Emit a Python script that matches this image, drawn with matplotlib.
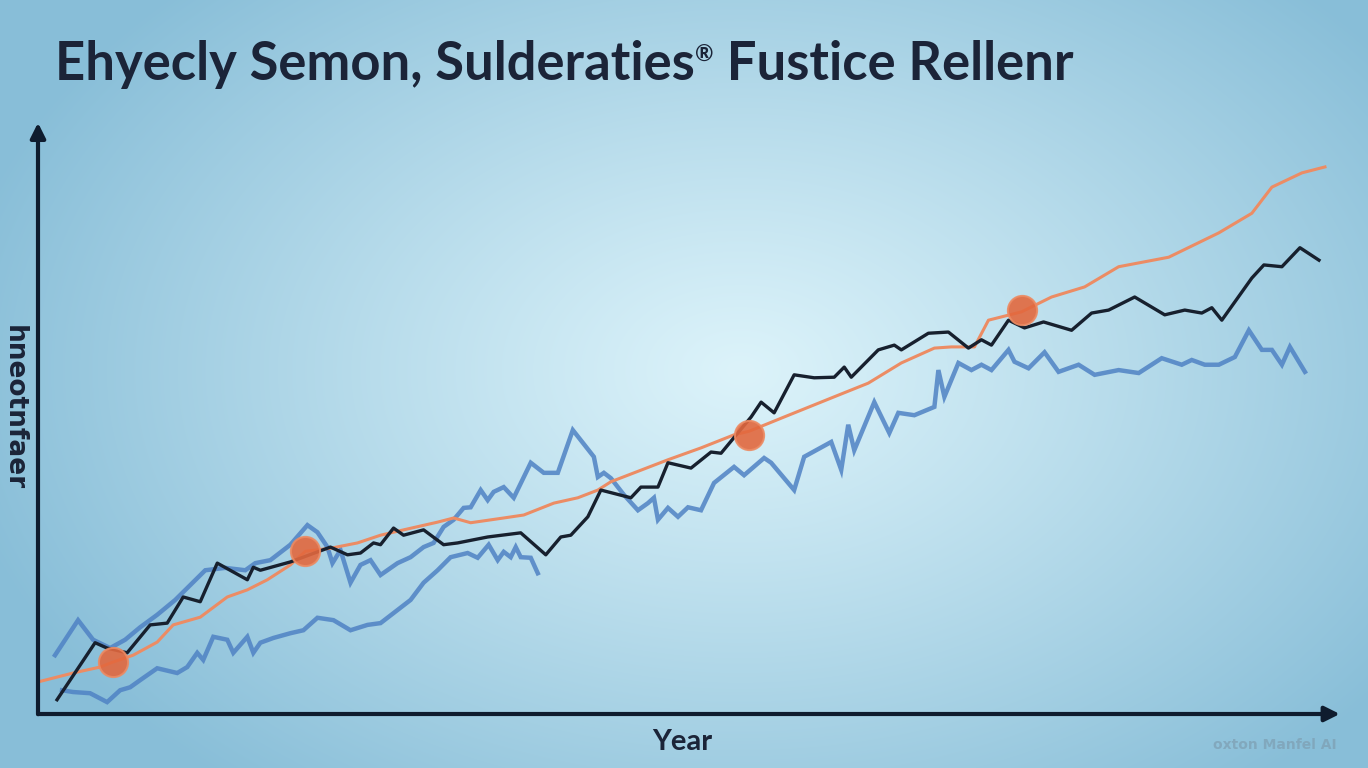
import numpy as np
import matplotlib
matplotlib.use("Agg")
import matplotlib.pyplot as plt

# --- data ---
orange_x = [1960.0, 1961.75, 1963.1, 1963.75, 1964.75, 1965.95, 1966.75, 1968.1, 1969.45, 1970.45,
            1971.45, 1972.6, 1973.35, 1974.6, 1975.95, 1977.1, 1978.25, 1979.95, 1980.75, 1981.6,
            1983.25, 1984.25, 1985.75, 1986.95, 1987.95, 1988.6, 1991.45, 1993.1, 1994.75, 1995.5,
            1997.25, 1999.75, 2001.45, 2003.1, 2004.75, 2005.6, 2006.75, 2007.45, 2009.1, 2010.6,
            2012.25, 2013.95, 2016.45, 2018.95, 2020.6, 2021.6, 2023.1, 2024.25]
orange_y = [5.4, 6.9, 7.9, 8.75, 9.9, 12.1, 15.0, 16.3, 19.7, 20.9,
            22.6, 25.1, 27.4, 27.9, 28.8, 30.1, 31.0, 32.3, 33.0, 32.2,
            33.0, 33.5, 35.5, 36.4, 37.7, 39.1, 42.8, 44.8, 47.0, 47.6,
            50.0, 53.4, 55.7, 59.1, 61.6, 61.8, 61.8, 66.3, 67.7, 70.2,
            71.9, 75.3, 76.9, 81.0, 84.3, 88.7, 91.1, 92.1]

black_x = [1960.95, 1962.85, 1963.45, 1964.45, 1965.6, 1966.45, 1967.25, 1968.1, 1968.95, 1970.45,
           1970.75, 1971.1, 1972.6, 1974.6, 1975.45, 1976.1, 1976.75, 1977.1, 1977.75, 1978.25,
           1979.25, 1980.25, 1980.95, 1982.45, 1984.1, 1985.35, 1986.1, 1986.6, 1987.45, 1988.1,
           1989.6, 1990.1, 1990.95, 1991.45, 1992.6, 1993.6, 1994.1, 1995.6, 1996.1, 1996.75,
           1997.75, 1998.75, 1999.75, 2000.25, 2000.6, 2001.95, 2002.75, 2003.1, 2004.45, 2005.45,
           2006.45, 2007.1, 2007.6, 2008.45, 2009.25, 2010.2, 2011.6, 2012.6, 2013.45, 2014.75,
           2016.25, 2017.25, 2018.1, 2018.6, 2019.1, 2020.6, 2021.2, 2022.1, 2023.0, 2023.95]
black_y = [2.4, 12.0, 11.1, 10.3, 15.0, 15.3, 19.7, 18.9, 25.4, 22.6,
           24.7, 24.2, 25.6, 28.1, 26.8, 27.1, 28.8, 28.5, 31.3, 30.1,
           31.0, 28.5, 28.8, 29.8, 30.5, 26.8, 29.8, 30.1, 33.2, 37.7,
           36.4, 38.2, 38.2, 42.3, 41.4, 44.1, 43.9, 50.0, 52.5, 50.7,
           57.1, 56.6, 56.7, 58.4, 56.7, 61.3, 62.1, 61.3, 64.1, 64.3,
           61.6, 63.0, 62.1, 66.3, 65.0, 66.0, 64.6, 67.5, 68.0, 70.2,
           67.2, 68.0, 67.5, 68.4, 66.3, 73.4, 75.6, 75.3, 78.5, 76.4]

blue_long_x = [1960.85, 1962.0, 1962.75, 1963.6, 1964.35, 1965.1, 1965.95, 1966.85, 1967.6, 1968.35,
               1969.35, 1970.35, 1970.85, 1971.6, 1972.6, 1973.45, 1973.95, 1974.45, 1974.7, 1975.1,
               1975.6, 1976.1, 1976.6, 1977.1, 1977.95, 1978.6, 1979.25, 1979.75, 1980.25, 1980.75,
               1981.25, 1981.6, 1982.1, 1982.45, 1982.75, 1983.25, 1983.75, 1984.6, 1985.25, 1985.95,
               1986.7, 1987.75, 1987.95, 1988.25, 1988.6, 1989.25, 1989.95, 1990.45, 1990.75, 1990.95,
               1991.45, 1991.95, 1992.45, 1993.1, 1993.75, 1994.75, 1995.25, 1996.25, 1996.6, 1997.75,
               1998.25, 1999.6, 2000.1, 2000.45, 2000.75, 2001.75, 2002.5, 2002.95, 2003.75, 2004.75,
               2004.95, 2005.25, 2005.95, 2006.6, 2007.1, 2007.6, 2008.45, 2008.75, 2009.45, 2010.25,
               2010.95, 2011.95, 2012.75, 2013.95, 2014.95, 2016.1, 2017.1, 2017.6, 2018.25, 2018.95,
               2019.75, 2020.45, 2021.1, 2021.6, 2022.1, 2022.5, 2023.25]
blue_long_y = [9.9, 15.8, 12.5, 11.1, 12.5, 14.6, 16.7, 19.2, 21.7, 24.2,
               24.6, 24.2, 25.4, 25.9, 28.5, 31.8, 30.6, 28.1, 25.4, 27.6,
               22.1, 25.1, 25.9, 23.4, 25.4, 26.4, 28.1, 28.8, 31.5, 32.7,
               34.7, 34.8, 37.7, 36.0, 37.4, 38.2, 36.4, 42.3, 40.6, 40.6,
               47.8, 43.3, 39.9, 40.6, 39.7, 36.9, 34.3, 35.5, 36.4, 32.7,
               34.7, 33.2, 34.8, 34.3, 38.9, 41.6, 40.2, 43.1, 42.3, 37.7,
               43.3, 45.8, 41.1, 48.7, 44.4, 52.5, 47.3, 50.7, 50.3, 51.7,
               57.9, 53.4, 59.1, 57.9, 58.8, 57.9, 61.3, 59.3, 58.2, 60.9,
               57.6, 58.8, 57.1, 57.9, 57.4, 59.9, 58.8, 59.6, 58.8, 58.8,
               60.1, 64.6, 61.3, 61.3, 58.8, 61.8, 57.6]

blue_short_x = [1961.2, 1961.75, 1962.6, 1963.45, 1964.1, 1964.6, 1965.1, 1965.95, 1966.95, 1967.45,
                1967.95, 1968.25, 1968.75, 1969.45, 1969.75, 1970.45, 1970.75, 1971.1, 1971.75, 1972.6,
                1973.25, 1973.95, 1974.75, 1975.6, 1976.45, 1977.1, 1978.6, 1979.25, 1979.95, 1980.6,
                1981.45, 1981.95, 1982.5, 1982.95, 1983.25, 1983.6, 1983.85, 1984.1, 1984.6, 1984.95]
blue_short_y = [4.0, 3.7, 3.5, 2.0, 4.0, 4.5, 5.7, 7.7, 6.9, 7.9,
                10.3, 9.1, 13.0, 12.5, 10.3, 13.0, 10.3, 12.0, 12.8, 13.6,
                14.1, 16.2, 15.8, 14.1, 15.0, 15.3, 19.2, 22.1, 24.2, 26.4,
                27.1, 26.3, 28.5, 25.9, 27.3, 26.4, 28.1, 26.4, 26.3, 23.7]

marker_x = [1963.75, 1973.35, 1995.5, 2009.1]
marker_y = [8.75, 27.4, 47.0, 68.0]

title_parts = ["Ehyecly Semon, Sulderaties", "®", " Fustice Rellenr"]
x_label = "Year"
y_label = "hneotnfaer"
watermark = "oxton Manfel AI"

W, H = 1368, 768
fig = plt.figure(figsize=(W / 100, H / 100), dpi=100)

# radial background
bg = fig.add_axes([0, 0, 1, 1])
bg.set_axis_off()
yy, xx = np.mgrid[0:H, 0:W]
t = np.sqrt(((xx - 740) / 800.0) ** 2 + ((yy - 370) / 540.0) ** 2)
t = np.clip(t, 0, 1) ** 1.1
c_in = np.array([220, 243, 250]) / 255.0
c_out = np.array([136, 190, 216]) / 255.0
img = c_in[None, None, :] * (1 - t[..., None]) + c_out[None, None, :] * t[..., None]
bg.imshow(img, extent=[0, W, H, 0], aspect="auto")
bg.set_xlim(0, W)
bg.set_ylim(H, 0)

ax = fig.add_axes([38 / W, (H - 714) / H, (1340 - 38) / W, (714 - 120) / H])
ax.patch.set_alpha(0)
ax.set_xlim(1960, 2025)
ax.set_ylim(0, 100)
for s in ax.spines.values():
    s.set_visible(False)
ax.set_xticks([])
ax.set_yticks([])

blue = "#4f82c4"
ax.plot(blue_short_x, blue_short_y, color=blue, lw=3.2, alpha=0.85, zorder=2, solid_joinstyle="miter")
ax.plot(blue_long_x, blue_long_y, color=blue, lw=3.2, alpha=0.85, zorder=2, solid_joinstyle="miter")
ax.plot(orange_x, orange_y, color="#ec8c64", lw=2.2, zorder=3)
ax.plot(black_x, black_y, color="#17202e", lw=2.4, zorder=4)
ax.plot(marker_x, marker_y, "o", ms=21, color="#e2683e", alpha=0.9,
        markeredgecolor="#ec8a62", markeredgewidth=1.5, zorder=5)

axis_col = "#0f1c2e"
ax.annotate("", xy=(0, 1), xytext=(0, -0.005), xycoords="axes fraction",
            arrowprops=dict(arrowstyle="-|>,head_length=0.9,head_width=0.45", color=axis_col, lw=3),
            annotation_clip=False)
ax.annotate("", xy=(1.002, 0), xytext=(-0.002, 0), xycoords="axes fraction",
            arrowprops=dict(arrowstyle="-|>,head_length=0.9,head_width=0.45", color=axis_col, lw=3),
            annotation_clip=False)

# title in pieces so the ® sits small and raised
renderer = fig.canvas.get_renderer()
title_col = "#1b2438"
x0 = 55
base = H - 80
sizes = [37.8, 16, 37.8]
raise_px = [0, 18, 0]
for part, fs, dy in zip(title_parts, sizes, raise_px):
    txt = fig.text(x0 / W, (base + dy) / H, part, fontsize=fs, fontweight="bold", family="Lato",
                   color=title_col, va="baseline", ha="left")
    x0 += txt.get_window_extent(renderer).width + (1 if fs < 30 else 0)

fig.text(682 / W, 1 - 742 / H, x_label, fontsize=21, fontweight="bold", family="Lato",
         color=title_col, va="center", ha="center")
fig.text(14 / W, 1 - 408 / H, y_label, fontsize=19, fontweight="bold", family="DejaVu Sans",
         rotation=270, color=title_col, va="center", ha="center")
fig.text(1275 / W, 1 - 745 / H, watermark, fontsize=10, fontweight="bold", family="DejaVu Sans",
         color="#7fa2b6", va="center", ha="center", alpha=0.8)

fig.savefig("out.png", dpi=100)
